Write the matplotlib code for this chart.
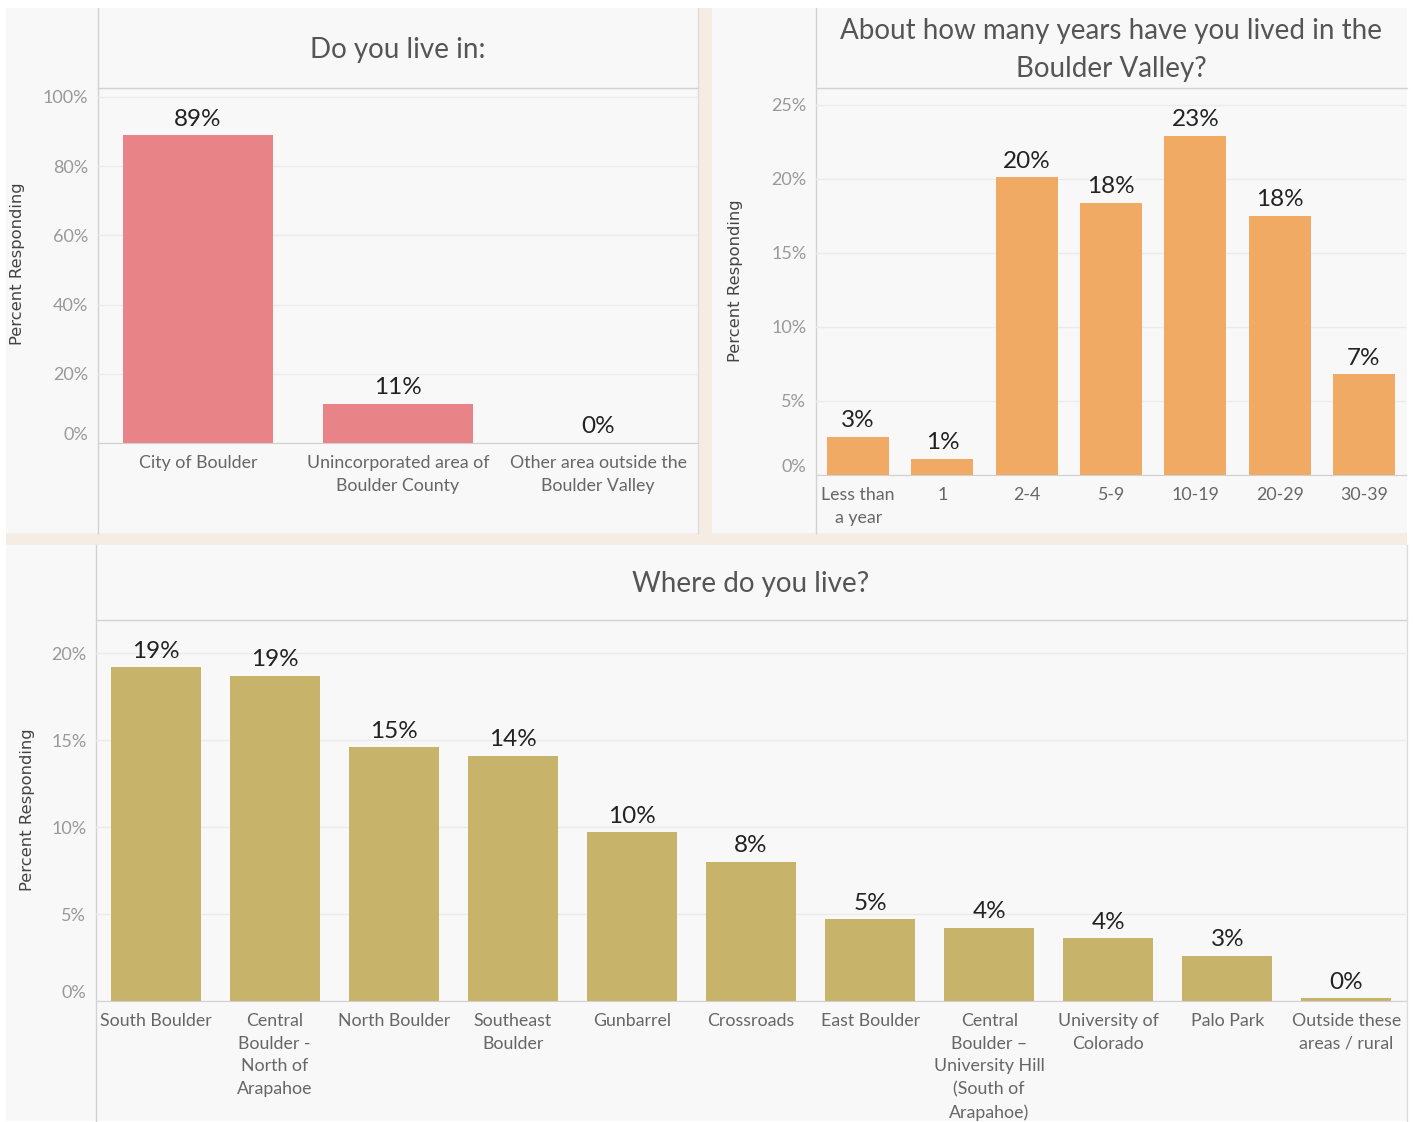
import matplotlib.pyplot as plt
from matplotlib.patches import Rectangle
from matplotlib.lines import Line2D

# data (percent responding)
live_cats = ["City of Boulder", "Unincorporated area of\nBoulder County",
             "Other area outside the\nBoulder Valley"]
live_vals = [88.9, 11.4, 0.1]

years_cats = ["Less than\na year", "1", "2-4", "5-9", "10-19", "20-29", "30-39"]
years_vals = [2.6, 1.1, 20.1, 18.4, 22.9, 17.5, 6.8]

area_cats = ["South Boulder", "Central\nBoulder -\nNorth of\nArapahoe", "North Boulder",
             "Southeast\nBoulder", "Gunbarrel", "Crossroads", "East Boulder",
             "Central\nBoulder \u2013\nUniversity Hill\n(South of\nArapahoe)",
             "University of\nColorado", "Palo Park", "Outside these\nareas / rural"]
area_vals = [19.2, 18.7, 14.6, 14.1, 9.7, 8.0, 4.7, 4.2, 3.6, 2.6, 0.15]

W, H = 1413, 1122
FONT = ["Lato", "DejaVu Sans"]
plt.rcParams['font.family'] = FONT

fig = plt.figure(figsize=(W / 100, H / 100), dpi=100, facecolor='white')


def fx(x):
    return x / W


def fy(y):
    return 1 - y / H


def rect(x0, y0, x1, y1, color):
    fig.patches.append(Rectangle((fx(x0), fy(y1)), fx(x1) - fx(x0), fy(y0) - fy(y1),
                                 transform=fig.transFigure, facecolor=color,
                                 edgecolor='none', zorder=-3))


def line(x0, y0, x1, y1, color='#d2d2d2', lw=1.0):
    fig.lines.append(Line2D([fx(x0), fx(x1)], [fy(y0), fy(y1)], transform=fig.transFigure,
                            color=color, lw=lw, zorder=-1))


# dashboard background and panels
rect(6, 8, 1407, 1121, '#f5ede3')
rect(6, 8, 698, 533, '#f8f8f8')
rect(712, 8, 1407, 533, '#f8f8f8')
rect(6, 545, 1407, 1121, '#f8f8f8')


def panel(box, title, title_xy, cats, vals, color, ymax, yticks, ylab_x, ylab_y, bar_w):
    x0, y0, x1, y1 = box
    ax = fig.add_axes([fx(x0), fy(y1), fx(x1) - fx(x0), fy(y0) - fy(y1)])
    ax.set_facecolor('none')
    xs = range(len(cats))
    ax.bar(xs, vals, width=bar_w, color=color, zorder=2)
    for x, v in zip(xs, vals):
        ax.annotate(f"{round(v)}%", (x, v), xytext=(0, 4), textcoords='offset points',
                    ha='center', va='bottom', fontsize=17.5, color='#222222')
    ax.set_xlim(-0.5, len(cats) - 0.5)
    ax.set_ylim(0, ymax)
    ax.set_yticks(yticks)
    ax.set_yticklabels([f"{t}%" for t in yticks], fontsize=13, color='#999999')
    ax.get_yticklabels()[0].set_va('bottom')
    ax.set_xticks(list(xs))
    ax.set_xticklabels(cats, fontsize=12.8, color='#666666', linespacing=1.52, va='top')
    ax.tick_params(axis='both', length=0)
    ax.tick_params(axis='y', pad=7)
    ax.tick_params(axis='x', pad=8.5)
    ax.yaxis.grid(True, color='#ebebeb', lw=1)
    ax.set_axisbelow(True)
    for s in ['top', 'right', 'left']:
        ax.spines[s].set_visible(False)
    ax.spines['bottom'].set_color('#d0d0d0')
    ax.spines['bottom'].set_zorder(3)
    fig.text(fx(title_xy[0]), fy(title_xy[1]), title, ha='center', va='center',
             fontsize=20, color='#555555', linespacing=1.55)
    fig.text(fx(ylab_x), fy(ylab_y), "Percent Responding", rotation=90, ha='center',
             va='center', fontsize=11.8, color='#444444', family='DejaVu Sans')
    return ax


# top-left panel
line(98, 8, 98, 533)
line(98, 88, 698, 88)
line(698, 8, 698, 533, '#dcdcdc')
panel((98, 90, 698, 443), "Do you live in:", (398, 50), live_cats, live_vals,
      '#e88487', 102, [0, 20, 40, 60, 80, 100], 18, 264, 0.75)

# top-right panel
line(816, 8, 816, 533)
line(816, 88, 1407, 88)
panel((816, 90, 1406, 475), "About how many years have you lived in the\nBoulder Valley?",
      (1111, 50), years_cats, years_vals, '#f1aa63', 26, [0, 5, 10, 15, 20, 25],
      736, 281, 0.735)

# bottom panel
line(96, 545, 96, 1121)
line(96, 620, 1407, 620)
line(1407, 545, 1407, 1121, '#dcdcdc')
panel((96, 622, 1406, 1001), "Where do you live?", (751, 584), area_cats, area_vals,
      '#c8b36a', 21.8, [0, 5, 10, 15, 20], 28, 810, 0.755)

fig.savefig('out.png', dpi=100, facecolor='white')
